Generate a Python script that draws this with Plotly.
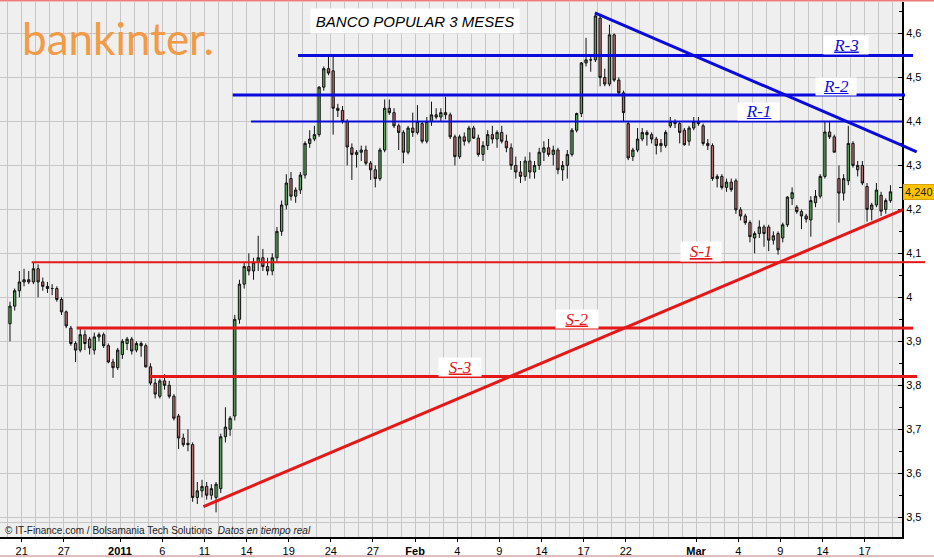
import plotly.graph_objects as go

# ---------------- data ----------------
trading_days = [
    "Dec 20", "Dec 21", "Dec 22", "Dec 23", "Dec 27", "Dec 28", "Dec 29", "Dec 30",
    "Jan 3", "Jan 4", "Jan 5", "Jan 6", "Jan 7", "Jan 10", "Jan 11", "Jan 12", "Jan 13",
    "Jan 14", "Jan 17", "Jan 18", "Jan 19", "Jan 20", "Jan 21", "Jan 24", "Jan 25",
    "Jan 26", "Jan 27", "Jan 28", "Jan 31",
    "Feb 1", "Feb 2", "Feb 3", "Feb 4", "Feb 7", "Feb 8", "Feb 9", "Feb 10", "Feb 11",
    "Feb 14", "Feb 15", "Feb 16", "Feb 17", "Feb 18", "Feb 21", "Feb 22", "Feb 23",
    "Feb 24", "Feb 25", "Feb 28",
    "Mar 1", "Mar 2", "Mar 3", "Mar 4", "Mar 7", "Mar 8", "Mar 9", "Mar 10", "Mar 11",
    "Mar 14", "Mar 15", "Mar 16", "Mar 17", "Mar 18",
]
tick_days = ["Dec 21", "Dec 27", "Jan 3", "Jan 6", "Jan 11", "Jan 14", "Jan 19", "Jan 24",
             "Jan 27", "Feb 1", "Feb 4", "Feb 9", "Feb 14", "Feb 17", "Feb 22", "Mar 1",
             "Mar 4", "Mar 9", "Mar 14", "Mar 17"]
tick_text = ["21", "27", "<b>2011</b>", "6", "11", "14", "19", "24", "27", "<b>Feb</b>",
             "4", "9", "14", "17", "22", "<b>Mar</b>", "4", "9", "14", "17"]

bars_per_day = 3

opens = [3.94, 3.98, 4.015, 4.035, 4.04, 4.035, 4.065, 4.035, 4.025, 4.02, 4.02, 3.995,
         3.967, 3.93, 3.895, 3.88, 3.915, 3.905, 3.88, 3.91, 3.915, 3.89, 3.853, 3.84,
         3.87, 3.895, 3.905, 3.88, 3.895, 3.89, 3.842, 3.805, 3.775, 3.81, 3.80, 3.775,
         3.73, 3.68, 3.668, 3.665, 3.545, 3.56, 3.57, 3.55, 3.545, 3.565, 3.683, 3.70,
         3.73, 3.95, 4.03, 4.07, 4.06, 4.08, 4.09, 4.07, 4.06, 4.09, 4.15, 4.21,
         4.27, 4.23, 4.244, 4.278, 4.35, 4.36, 4.37, 4.478, 4.52, 4.515, 4.43, 4.425,
         4.40, 4.34, 4.325, 4.33, 4.335, 4.305, 4.29, 4.27, 4.335, 4.43, 4.42, 4.39,
         4.375, 4.33, 4.385, 4.375, 4.395, 4.355, 4.40, 4.415, 4.41, 4.42, 4.415, 4.365,
         4.32, 4.365, 4.355, 4.385, 4.362, 4.325, 4.345, 4.37, 4.36, 4.375, 4.355, 4.34,
         4.30, 4.285, 4.275, 4.31, 4.285, 4.30, 4.33, 4.34, 4.325, 4.335, 4.29, 4.30,
         4.325, 4.38, 4.418, 4.533, 4.54, 4.54, 4.635, 4.50, 4.485, 4.597, 4.494, 4.465,
         4.395, 4.32, 4.335, 4.36, 4.375, 4.37, 4.36, 4.345, 4.345, 4.39, 4.40, 4.395,
         4.38, 4.355, 4.385, 4.40, 4.39, 4.35, 4.345, 4.27, 4.275, 4.25, 4.262, 4.265,
         4.199, 4.185, 4.17, 4.135, 4.145, 4.16, 4.16, 4.13, 4.145, 4.135, 4.165, 4.225,
         4.205, 4.195, 4.185, 4.176, 4.215, 4.23, 4.275, 4.376, 4.365, 4.27, 4.237, 4.265,
         4.35, 4.29, 4.30, 4.252, 4.20, 4.21, 4.232, 4.20, 4.22]
highs = [3.99, 4.02, 4.06, 4.065, 4.06, 4.08, 4.075, 4.045, 4.035, 4.03, 4.025, 4.00,
         3.97, 3.935, 3.90, 3.93, 3.925, 3.91, 3.92, 3.92, 3.92, 3.895, 3.86, 3.885,
         3.905, 3.91, 3.91, 3.90, 3.90, 3.895, 3.85, 3.815, 3.815, 3.825, 3.81, 3.78,
         3.735, 3.69, 3.70, 3.67, 3.58, 3.585, 3.58, 3.575, 3.58, 3.69, 3.75, 3.73,
         3.96, 4.04, 4.08, 4.10, 4.09, 4.14, 4.11, 4.09, 4.10, 4.16, 4.22, 4.28,
         4.285, 4.25, 4.285, 4.355, 4.38, 4.39, 4.48, 4.525, 4.547, 4.547, 4.44, 4.435,
         4.405, 4.35, 4.335, 4.345, 4.345, 4.31, 4.30, 4.34, 4.45, 4.45, 4.43, 4.395,
         4.38, 4.39, 4.42, 4.437, 4.40, 4.41, 4.445, 4.43, 4.43, 4.456, 4.42, 4.37,
         4.37, 4.375, 4.39, 4.39, 4.37, 4.355, 4.38, 4.39, 4.38, 4.39, 4.37, 4.35,
         4.32, 4.31, 4.32, 4.33, 4.31, 4.34, 4.355, 4.36, 4.345, 4.34, 4.31, 4.335,
         4.385, 4.42, 4.535, 4.59, 4.55, 4.647, 4.64, 4.52, 4.62, 4.60, 4.50, 4.47,
         4.40, 4.34, 4.385, 4.385, 4.38, 4.375, 4.365, 4.36, 4.38, 4.41, 4.405, 4.40,
         4.385, 4.39, 4.41, 4.41, 4.395, 4.36, 4.35, 4.28, 4.28, 4.27, 4.27, 4.27,
         4.205, 4.19, 4.175, 4.15, 4.175, 4.165, 4.165, 4.15, 4.15, 4.17, 4.23, 4.25,
         4.21, 4.20, 4.19, 4.23, 4.244, 4.28, 4.40, 4.40, 4.37, 4.30, 4.28, 4.39,
         4.355, 4.31, 4.31, 4.26, 4.215, 4.26, 4.24, 4.225, 4.255]
lows = [3.90, 3.97, 4.00, 4.025, 4.03, 4.03, 4.00, 4.015, 4.01, 4.005, 3.99, 3.96,
        3.93, 3.89, 3.853, 3.875, 3.88, 3.87, 3.87, 3.90, 3.885, 3.85, 3.817, 3.835,
        3.86, 3.88, 3.87, 3.875, 3.865, 3.84, 3.80, 3.77, 3.77, 3.79, 3.77, 3.72,
        3.655, 3.66, 3.65, 3.535, 3.53, 3.545, 3.54, 3.54, 3.511, 3.555, 3.67, 3.685,
        3.72, 3.94, 4.02, 4.05, 4.04, 4.06, 4.06, 4.05, 4.05, 4.08, 4.14, 4.20,
        4.22, 4.215, 4.235, 4.27, 4.34, 4.355, 4.365, 4.47, 4.505, 4.37, 4.41, 4.395,
        4.30, 4.267, 4.295, 4.31, 4.30, 4.267, 4.25, 4.265, 4.33, 4.415, 4.385, 4.335,
        4.305, 4.325, 4.365, 4.37, 4.35, 4.35, 4.39, 4.405, 4.40, 4.405, 4.36, 4.30,
        4.315, 4.345, 4.35, 4.36, 4.32, 4.31, 4.335, 4.35, 4.34, 4.35, 4.33, 4.29,
        4.27, 4.26, 4.265, 4.27, 4.27, 4.29, 4.31, 4.32, 4.30, 4.28, 4.265, 4.27,
        4.32, 4.375, 4.41, 4.525, 4.513, 4.535, 4.48, 4.48, 4.48, 4.49, 4.46, 4.40,
        4.312, 4.31, 4.33, 4.355, 4.345, 4.35, 4.325, 4.33, 4.34, 4.385, 4.385, 4.35,
        4.345, 4.345, 4.38, 4.39, 4.345, 4.335, 4.265, 4.25, 4.245, 4.24, 4.24, 4.19,
        4.175, 4.165, 4.125, 4.10, 4.135, 4.115, 4.105, 4.12, 4.097, 4.125, 4.16, 4.21,
        4.19, 4.155, 4.17, 4.138, 4.205, 4.225, 4.27, 4.36, 4.33, 4.17, 4.22, 4.255,
        4.295, 4.275, 4.255, 4.172, 4.175, 4.205, 4.185, 4.19, 4.215]
closes = [3.98, 4.015, 4.035, 4.04, 4.035, 4.065, 4.035, 4.025, 4.02, 4.02, 3.995, 3.967,
          3.935, 3.895, 3.88, 3.915, 3.895, 3.885, 3.91, 3.915, 3.89, 3.853, 3.84, 3.88,
          3.90, 3.905, 3.878, 3.895, 3.89, 3.842, 3.805, 3.78, 3.81, 3.80, 3.775, 3.725,
          3.68, 3.665, 3.665, 3.545, 3.56, 3.57, 3.55, 3.565, 3.575, 3.683, 3.705, 3.725,
          3.95, 4.03, 4.07, 4.06, 4.08, 4.09, 4.07, 4.06, 4.09, 4.15, 4.21, 4.26,
          4.23, 4.244, 4.278, 4.35, 4.36, 4.37, 4.478, 4.52, 4.51, 4.43, 4.425, 4.40,
          4.342, 4.325, 4.33, 4.335, 4.305, 4.29, 4.27, 4.335, 4.43, 4.42, 4.39, 4.375,
          4.33, 4.385, 4.375, 4.40, 4.355, 4.40, 4.415, 4.41, 4.42, 4.415, 4.365, 4.32,
          4.365, 4.355, 4.385, 4.362, 4.325, 4.345, 4.37, 4.36, 4.375, 4.355, 4.34, 4.30,
          4.285, 4.275, 4.31, 4.285, 4.30, 4.33, 4.34, 4.325, 4.335, 4.29, 4.30, 4.325,
          4.38, 4.418, 4.533, 4.54, 4.54, 4.64, 4.50, 4.485, 4.597, 4.494, 4.465, 4.42,
          4.317, 4.335, 4.36, 4.375, 4.37, 4.36, 4.345, 4.35, 4.375, 4.40, 4.395, 4.375,
          4.347, 4.385, 4.40, 4.395, 4.35, 4.345, 4.27, 4.275, 4.25, 4.262, 4.245, 4.199,
          4.185, 4.17, 4.138, 4.145, 4.16, 4.145, 4.13, 4.14, 4.108, 4.165, 4.228, 4.238,
          4.195, 4.185, 4.178, 4.22, 4.23, 4.275, 4.376, 4.365, 4.33, 4.237, 4.27, 4.35,
          4.30, 4.30, 4.26, 4.20, 4.21, 4.244, 4.196, 4.22, 4.24]

# support / resistance levels: (name, price, first day position)
resistances = [("R-3", 4.55, 20.67), ("R-2", 4.46, 16.02), ("R-1", 4.40, 17.32)]
supports = [("S-1", 4.08, 1.71), ("S-2", 3.93, 4.91), ("S-3", 3.82, 10.13)]
# trend lines: (x0, y0, x1, y1) in day positions / prices
down_trend = (41.8, 4.647, 64.7, 4.331)
up_trend = (13.93, 3.524, 63.72, 4.199)

# ---------------- layout geometry ----------------
W, H = 934, 558
PLOT_L, PLOT_R, PLOT_T, PLOT_B = 0, 902, 2, 537.5
X_RANGE = [-0.5445, 63.655]
Y_RANGE = [3.455, 4.6716]
# how far (px) each drawn line overshoots the right axis in the original drawing
overshoot_px = {"R-3": 913, "R-2": 905, "R-1": 902, "S-1": 925, "S-2": 913, "S-3": 917}

def px_x(px):
    return (px - PLOT_L) / (PLOT_R - PLOT_L)

def px_y(py):
    return (PLOT_B - py) / (PLOT_B - PLOT_T)

def x_to_px(xv):
    return PLOT_L + (xv - X_RANGE[0]) / (X_RANGE[1] - X_RANGE[0]) * (PLOT_R - PLOT_L)

BLUE = "#0a0adc"
RED = "#e41818"

xpos = [k // bars_per_day + (k % bars_per_day + 0.5) / bars_per_day for k in range(len(closes))]
tickvals = [trading_days.index(d) for d in tick_days]

fig = go.Figure(go.Candlestick(
    x=xpos, open=opens, high=highs, low=lows, close=closes,
    increasing=dict(line=dict(color="#111111", width=1), fillcolor="#5aa55a"),
    decreasing=dict(line=dict(color="#111111", width=1), fillcolor="#b46e6e"),
    whiskerwidth=0, hoverinfo="skip", showlegend=False,
))

shapes = []
for name, lvl, x0 in resistances + supports:
    color = BLUE if name.startswith("R") else RED
    lw = 2 if name in ("R-1", "S-1") else 3
    shapes.append(dict(type="line", xref="x", yref="y", x0=x0, x1=X_RANGE[1] + 1, y0=lvl, y1=lvl,
                       line=dict(color=color, width=lw), layer="above"))
    if overshoot_px[name] > PLOT_R:
        shapes.append(dict(type="line", xref="paper", yref="y", x0=1, x1=px_x(overshoot_px[name]),
                           y0=lvl, y1=lvl, line=dict(color=color, width=lw), layer="above"))

for (tx0, ty0, tx1, ty1), color in ((down_trend, BLUE), (up_trend, RED)):
    shapes.append(dict(type="line", xref="x", yref="y", x0=tx0, y0=ty0, x1=tx1, y1=ty1,
                       line=dict(color=color, width=3), layer="above"))
    if tx1 > X_RANGE[1]:
        y_edge = ty0 + (ty1 - ty0) * (X_RANGE[1] - tx0) / (tx1 - tx0)
        shapes.append(dict(type="line", xref="paper", yref="y", x0=1, y0=y_edge,
                           x1=px_x(x_to_px(tx1)), y1=ty1,
                           line=dict(color=color, width=3), layer="above"))

# footer strip inside the plot frame
shapes.append(dict(type="rect", xref="paper", yref="paper", x0=0, x1=1, y0=0, y1=px_y(523),
                   fillcolor="#efefef", line=dict(width=0), layer="between"))
shapes.append(dict(type="line", xref="paper", yref="paper", x0=0, x1=1, y0=px_y(523), y1=px_y(523),
                   line=dict(color="#c6c6c6", width=1), layer="between"))
# outer borders
shapes.append(dict(type="line", xref="paper", yref="paper", x0=px_x(0), x1=px_x(W),
                   y0=px_y(0.8), y1=px_y(0.8), line=dict(color="#ec7a7a", width=1.6)))
shapes.append(dict(type="line", xref="paper", yref="paper", x0=px_x(0), x1=px_x(W),
                   y0=px_y(556.5), y1=px_y(556.5), line=dict(color="#d4aaaa", width=1.5)))

annotations = [
    dict(text="bankinter.", xref="paper", yref="paper", x=px_x(118), y=px_y(38),
         xanchor="center", yanchor="middle",
         showarrow=False, font=dict(family="Lato", size=44, color="#f29a45")),
    dict(text="<i>BANCO POPULAR 3 MESES</i>", xref="paper", yref="paper", x=px_x(415), y=px_y(21),
         xanchor="center", yanchor="middle",
         showarrow=False, bgcolor="white", width=206, height=22,
         font=dict(family="Liberation Sans", size=15, color="black")),
    dict(text="\u00a9 IT-Finance.com / Bolsamania Tech Solutions  <i>Datos en tiempo real</i>",
         xref="paper", yref="paper", x=px_x(3), y=px_y(531), xanchor="left", yanchor="middle",
         showarrow=False, font=dict(family="Liberation Sans", size=10, color="#222222")),
    dict(text=f"{closes[-1]:.3f}".replace(".", ","), xref="paper", yref="y", x=1, y=closes[-1],
         xanchor="left", yanchor="middle", xshift=1, showarrow=False, bgcolor="#ffc400",
         bordercolor="#d9a000", borderwidth=1, borderpad=1,
         font=dict(family="Liberation Sans", size=11, color="#222222")),
]

label_pos = {
    "R-3": (59.67, 4.574, 42, 16), "R-2": (58.96, 4.4795, 38, 15), "R-1": (53.44, 4.4223, 39, 15),
    "S-1": (49.35, 4.1045, 38, 17), "S-2": (40.52, 3.951, 40, 16), "S-3": (32.2, 3.841, 40, 16),
}
for name, lvl, _ in resistances + supports:
    lx, ly, bw, bh = label_pos[name]
    annotations.append(dict(
        text=f"<i><u>{name}</u></i>", xref="x", yref="y", x=lx, y=ly, showarrow=False,
        xanchor="center", yanchor="middle",
        bgcolor="white", width=bw, height=bh,
        font=dict(family="Liberation Serif", size=17, color=BLUE if name.startswith("R") else RED)))

fig.update_layout(
    width=W, height=H,
    margin=dict(l=PLOT_L, r=W - PLOT_R, t=PLOT_T, b=H - PLOT_B, pad=0),
    paper_bgcolor="white", plot_bgcolor="#efefef",
    separators=",.",
    showlegend=False,
    shapes=shapes, annotations=annotations,
    xaxis=dict(
        range=X_RANGE, type="linear", rangeslider=dict(visible=False), automargin=False,
        tickvals=tickvals, ticktext=tick_text, ticks="outside", ticklen=3, tickcolor="black",
        showgrid=True, gridcolor="#c6c6c6", gridwidth=1, zeroline=False,
        showline=True, linecolor="black", linewidth=2,
        tickfont=dict(family="Liberation Sans", size=11, color="black"),
        minor=dict(tick0=0, dtick=1, showgrid=True, gridcolor="#c6c6c6", gridwidth=1, ticks=""),
    ),
    yaxis=dict(
        range=Y_RANGE, side="right", automargin=False,
        tick0=0, dtick=0.1, ticks="inside", ticklen=4, tickcolor="black",
        showgrid=True, gridcolor="#c6c6c6", gridwidth=1, zeroline=False,
        showline=True, linecolor="black", linewidth=2,
        tickfont=dict(family="Liberation Sans", size=11, color="black"),
        minor=dict(dtick=0.05, ticks="inside", ticklen=3, tickcolor="black", showgrid=False),
    ),
)

fig.write_html("out.html", config={"displayModeBar": False},
               post_script="document.body.style.margin='0';")
